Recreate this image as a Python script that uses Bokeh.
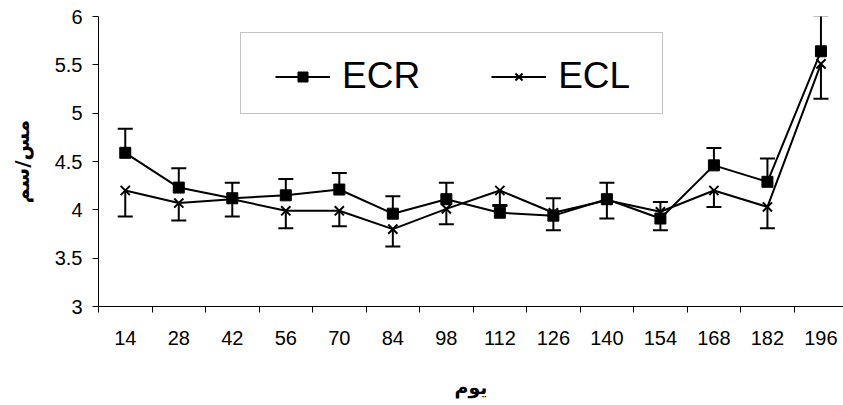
from bokeh.plotting import figure
from bokeh.models import (Range1d, FixedTicker, ColumnDataSource, Whisker, TeeHead,
                          Legend, LegendItem, BoxAnnotation)
from bokeh.embed import file_html
from bokeh.resources import INLINE

# ---- data ----
days = [14, 28, 42, 56, 70, 84, 98, 112, 126, 140, 154, 168, 182, 196]
ecr = [4.59, 4.23, 4.12, 4.15, 4.21, 3.96, 4.11, 3.97, 3.94, 4.11, 3.91, 4.46, 4.29, 5.64]
ecr_err = [0.25, 0.20, 0.16, 0.17, 0.17, 0.18, 0.17, 0.08, 0.18, 0.17, 0.17, 0.18, 0.24, 0.37]
ecl = [4.20, 4.07, 4.11, 3.99, 3.99, 3.80, 4.01, 4.20, 3.97, 4.10, 3.98, 4.20, 4.03, 5.51]
ecl_err = [0.27, 0.18, 0.18, 0.18, 0.16, 0.18, 0.16, 0.16, 0.18, 0.19, 0.19, 0.17, 0.22, 0.36]
y_ticks = [3, 3.5, 4, 4.5, 5, 5.5, 6]
y_tick_labels = ["3", "3.5", "4", "4.5", "5", "5.5", "6"]
series_names = ["ECR", "ECL"]
x_title = "يوم"
y_title = "مس/سم"

src_r = ColumnDataSource(dict(x=days, y=ecr,
                              up=[v + e for v, e in zip(ecr, ecr_err)]))
src_l = ColumnDataSource(dict(x=days, y=ecl,
                              lo=[v - e for v, e in zip(ecl, ecl_err)]))

half = (days[1] - days[0]) / 2
p = figure(width=843, height=405, output_backend="svg", toolbar_location=None,
           x_range=Range1d(days[0] - half, 201.9), y_range=Range1d(y_ticks[0], y_ticks[-1]),
           min_border_left=98, min_border_right=0, min_border_top=16, min_border_bottom=99)
p.outline_line_color = None
p.grid.visible = False
p.background_fill_color = "white"

FONT = "Liberation Sans"

# x axis: labels at category centres, tick marks at category boundaries
xa = p.xaxis[0]
xa.ticker = FixedTicker(ticks=days, minor_ticks=[d - half for d in days] + [days[-1] + half])
xa.major_tick_out = 0
xa.major_tick_in = 0
xa.minor_tick_out = 6
xa.minor_tick_in = 0
xa.minor_tick_line_color = "black"
xa.axis_line_color = "black"
xa.major_label_text_font = FONT
xa.major_label_text_font_size = "20px"
xa.major_label_text_color = "black"
xa.major_label_standoff = 18
xa.axis_label = x_title
xa.axis_label_text_font = "DejaVu Sans"
xa.axis_label_text_font_style = "bold"
xa.axis_label_text_font_size = "19px"
xa.axis_label_text_color = "black"
xa.axis_label_standoff = 28

ya = p.yaxis[0]
ya.ticker = FixedTicker(ticks=y_ticks, minor_ticks=[])
ya.major_label_overrides = {t: s for t, s in zip(y_ticks, y_tick_labels)}
ya.major_tick_out = 6
ya.major_tick_in = 0
ya.major_tick_line_color = "black"
ya.axis_line_color = "black"
ya.major_label_text_font = FONT
ya.major_label_text_font_size = "20px"
ya.major_label_text_color = "black"
ya.major_label_standoff = 10
ya.axis_label = y_title
ya.axis_label_text_font = "DejaVu Sans"
ya.axis_label_text_font_style = "bold"
ya.axis_label_text_font_size = "20px"
ya.axis_label_text_color = "black"
ya.axis_label_standoff = 18

# error bars
p.add_layout(Whisker(source=src_r, base="x", upper="up", lower="y",
                     line_color="black", line_width=2,
                     upper_head=TeeHead(size=15, line_color="black", line_width=2),
                     lower_head=None))
p.add_layout(Whisker(source=src_l, base="x", upper="y", lower="lo",
                     line_color="black", line_width=2,
                     lower_head=TeeHead(size=15, line_color="black", line_width=2),
                     upper_head=None))

lr = p.line("x", "y", source=src_r, line_color="black", line_width=2)
ll = p.line("x", "y", source=src_l, line_color="black", line_width=2)
mr = p.scatter("x", "y", source=src_r, marker="square", size=11,
               fill_color="black", line_color="black")
ml = p.scatter("x", "y", source=src_l, marker="x", size=13,
               line_color="black", line_width=2)

# legend frame
p.add_layout(BoxAnnotation(left=142, right=564, top=274, bottom=193,
                           left_units="screen", right_units="screen",
                           top_units="screen", bottom_units="screen",
                           fill_color=None, fill_alpha=0,
                           line_color="#333333", line_width=1))

legend = Legend(items=[LegendItem(label=series_names[0], renderers=[lr, mr]),
                       LegendItem(label=series_names[1], renderers=[ll, ml])],
                orientation="horizontal", location=(177, 209),
                padding=0, margin=0, spacing=71,
                glyph_width=55, glyph_height=25, label_standoff=12,
                label_text_font=FONT, label_text_font_size="37px",
                label_text_color="black",
                border_line_color=None, background_fill_alpha=0)
p.add_layout(legend, "center")

open("out.html", "w").write(file_html(p, INLINE))
